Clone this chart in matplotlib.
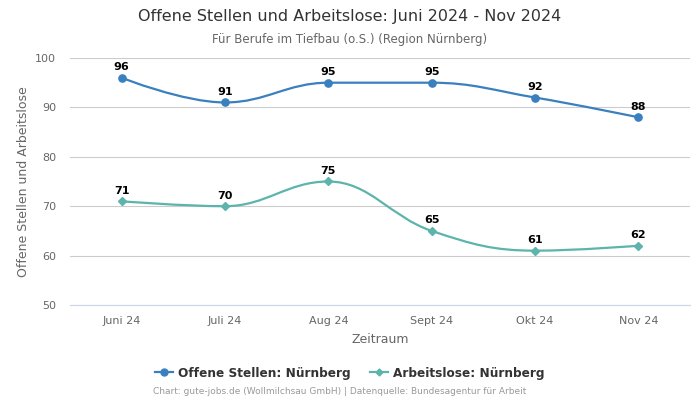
import matplotlib
matplotlib.use("Agg")
import matplotlib.pyplot as plt
from matplotlib.path import Path
from matplotlib.patches import PathPatch
from matplotlib.lines import Line2D

categories = ["Juni 24", "Juli 24", "Aug 24", "Sept 24", "Okt 24", "Nov 24"]
offene = [96, 91, 95, 95, 92, 88]
arbeitslose = [71, 70, 75, 65, 61, 62]

title = "Offene Stellen und Arbeitslose: Juni 2024 - Nov 2024"
subtitle = "Für Berufe im Tiefbau (o.S.) (Region Nürnberg)"
ylabel = "Offene Stellen und Arbeitslose"
xlabel = "Zeitraum"
legend_labels = ["Offene Stellen: Nürnberg", "Arbeitslose: Nürnberg"]
credit = "Chart: gute-jobs.de (Wollmilchsau GmbH) | Datenquelle: Bundesagentur für Arbeit"

c_blue = "#3a80bf"
c_teal = "#5cb4ac"

plt.rcParams["font.family"] = ["DejaVu Sans"]


def spline_path(xs, ys, smoothing=1.5):
    n = len(xs)
    denom = smoothing + 1
    lefts, rights = [None] * n, [None] * n
    for i in range(n):
        if i == 0 or i == n - 1:
            lefts[i] = (xs[i], ys[i])
            rights[i] = (xs[i], ys[i])
            continue
        px, py = xs[i], ys[i]
        lx, ly = xs[i - 1], ys[i - 1]
        nx, ny = xs[i + 1], ys[i + 1]
        lcx = (smoothing * px + lx) / denom
        lcy = (smoothing * py + ly) / denom
        rcx = (smoothing * px + nx) / denom
        rcy = (smoothing * py + ny) / denom
        corr = 0
        if rcx != lcx:
            corr = (rcy - lcy) * (rcx - px) / (rcx - lcx) + py - rcy
        lcy += corr
        rcy += corr
        if lcy > ly and lcy > py:
            lcy = max(ly, py)
            rcy = 2 * py - lcy
        elif lcy < ly and lcy < py:
            lcy = min(ly, py)
            rcy = 2 * py - lcy
        if rcy > ny and rcy > py:
            rcy = max(ny, py)
            lcy = 2 * py - rcy
        elif rcy < ny and rcy < py:
            rcy = min(ny, py)
            lcy = 2 * py - rcy
        lefts[i] = (lcx, lcy)
        rights[i] = (rcx, rcy)
    verts = [(xs[0], ys[0])]
    codes = [Path.MOVETO]
    for i in range(1, n):
        verts += [rights[i - 1], lefts[i], (xs[i], ys[i])]
        codes += [Path.CURVE4] * 3
    return Path(verts, codes)


fig = plt.figure(figsize=(7, 4), dpi=100)
ax = fig.add_axes([70 / 700, 1 - 305 / 400, 620 / 700, 247 / 400])

x = list(range(len(categories)))
for vals, col, mk, ms in [(offene, c_blue, "o", 5.2), (arbeitslose, c_teal, "D", 3.6)]:
    p = spline_path(x, vals)
    ax.add_patch(PathPatch(p, facecolor="none", edgecolor=col, lw=1.6, zorder=3))
    ax.plot(x, vals, linestyle="none", marker=mk, markersize=ms, color=col, zorder=4)
    for xi, v in zip(x, vals):
        ax.annotate(str(v), (xi, v), xytext=(0, 4), textcoords="offset points",
                    ha="center", va="bottom", fontsize=8, fontweight="bold", color="black", zorder=5)

ax.set_xlim(-0.5, len(categories) - 0.5)
ax.set_ylim(50, 100)
ax.set_yticks([50, 60, 70, 80, 90, 100])
ax.set_xticks(x)
ax.set_xticklabels(categories)
ax.grid(axis="y", color="#cccccc", lw=0.8)
ax.set_axisbelow(True)
for s in ["top", "right", "left"]:
    ax.spines[s].set_visible(False)
ax.spines["bottom"].set_color("#ccd6eb")
ax.tick_params(axis="both", length=0, labelsize=8, colors="#666666")
ax.tick_params(axis="x", pad=8)
ax.tick_params(axis="y", pad=10)
ax.set_ylabel(ylabel, fontsize=9, color="#666666", labelpad=4)
ax.set_xlabel(xlabel, fontsize=9, color="#666666", labelpad=5)

fig.text(0.5, 1 - 17 / 400, title, ha="center", va="center", fontsize=11.5, color="#333333")
fig.text(0.5, 1 - 39 / 400, subtitle, ha="center", va="center", fontsize=8.5, color="#666666")

handles = [Line2D([0], [0], color=c_blue, marker="o", markersize=5, lw=1.6),
           Line2D([0], [0], color=c_teal, marker="D", markersize=3.5, lw=1.6)]
leg = fig.legend(handles, legend_labels, loc="center", bbox_to_anchor=(350 / 700, 1 - 373 / 400),
                 ncol=2, frameon=False, handlelength=1.5, columnspacing=1.6,
                 prop={"size": 8.7, "weight": "bold"}, labelcolor="#333333", handletextpad=0.4)
fig.text(340 / 700, 1 - 392 / 400, credit, ha="center", va="center", fontsize=6.5, color="#999999")

fig.savefig("out.png", dpi=100)
